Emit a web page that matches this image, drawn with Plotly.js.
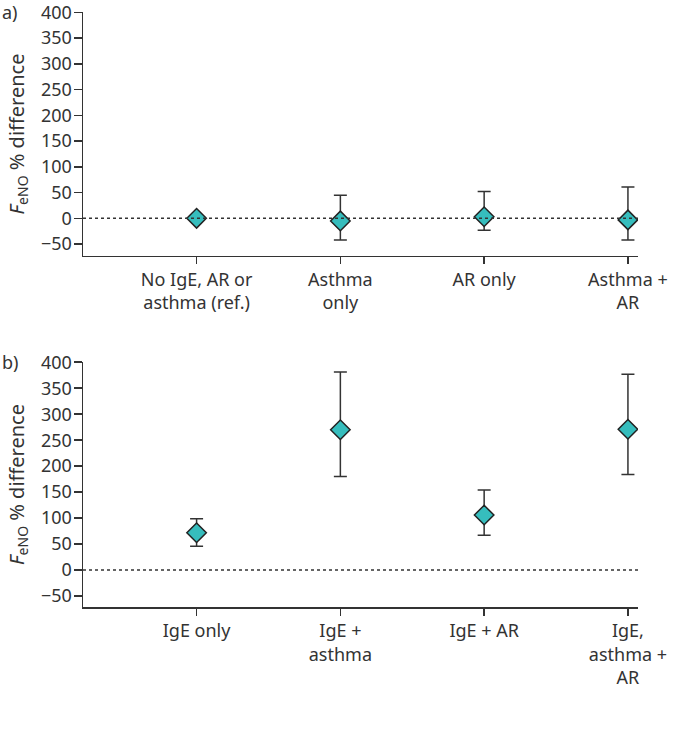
<!DOCTYPE html>
<html>
<head>
<meta charset="utf-8">
<script src="https://cdn.plot.ly/plotly-3.0.1.min.js"></script>
<style>html,body{margin:0;padding:0;background:#fff;}#chart{width:680px;height:735px;}</style>
</head>
<body>
<div id="chart"></div>
<script>
// Panel a
const catsA = ["No IgE, AR or<br>asthma (ref.)", "Asthma<br>only", "AR only", "Asthma +<br>AR"];
const valsA = [0, -5, 3, -3];
const upperA = [null, 45, 52, 61];
const lowerA = [null, -42, -23, -42];
// Panel b
const catsB = ["IgE only", "IgE +<br>asthma", "IgE + AR", "IgE,<br>asthma +<br>AR"];
const valsB = [72, 270, 106, 271];
const upperB = [99, 381, 154, 377];
const lowerB = [46, 180, 67, 184];
const yTicks = [-50, 0, 50, 100, 150, 200, 250, 300, 350, 400];

const FONT = "Noto Sans, sans-serif";
const DARK = "#333333";
const TEAL = "#36bdbd";

function errs(v, up, lo) {
  return {
    plus: v.map((d, i) => up[i] == null ? 0 : up[i] - d),
    minus: v.map((d, i) => lo[i] == null ? 0 : d - lo[i])
  };
}
const eA = errs(valsA, upperA, lowerA);
const eB = errs(valsB, upperB, lowerB);

function trace(cats, vals, e, xa, ya) {
  return {
    type: "scatter", mode: "markers",
    x: cats.map((c, i) => i), y: vals, xaxis: xa, yaxis: ya,
    marker: {symbol: "diamond", size: 15, color: TEAL, line: {color: "#222", width: 1.5}},
    error_y: {type: "data", symmetric: false, array: e.plus, arrayminus: e.minus,
      color: DARK, thickness: 1.5, width: 6.5},
    showlegend: false, hoverinfo: "skip"
  };
}

const xBase = {
  range: [-0.79, 3.07], showline: true, linecolor: DARK, linewidth: 1.5,
  ticks: "outside", ticklen: 7, tickcolor: DARK, tickwidth: 1.5,
  tickmode: "array", tickvals: [0, 1, 2, 3], showgrid: false, zeroline: false,
  tickfont: {family: FONT, size: 18, color: DARK}
};
const yBase = {
  showline: true, linecolor: DARK, linewidth: 1.5,
  ticks: "outside", ticklen: 8, tickcolor: DARK, tickwidth: 1.5,
  tickmode: "array", tickvals: yTicks, showgrid: false, zeroline: false,
  ticklabeloverflow: "allow", ticklabelstandoff: -2,
  tickfont: {family: FONT, size: 18, color: DARK},
  title: {text: "<i>F</i><sub>eNO</sub> % difference", font: {family: FONT, size: 20, color: DARK}, standoff: 11}
};

const layout = {
  width: 680, height: 735,
  margin: {l: 83, r: 42, t: 12, b: 128},
  paper_bgcolor: "#fff", plot_bgcolor: "#fff",
  font: {family: FONT, color: DARK},
  xaxis: Object.assign({}, xBase, {anchor: "y", ticktext: catsA}),
  yaxis: Object.assign({}, yBase, {domain: [0.590, 1], range: [-73, 400.5], anchor: "x"}),
  xaxis2: Object.assign({}, xBase, {anchor: "y2", ticktext: catsB}),
  yaxis2: Object.assign({}, yBase, {domain: [0, 0.4118], range: [-71, 400.5], anchor: "x2"}),
  shapes: [
    {type: "line", xref: "x domain", yref: "y", x0: 0, x1: 1, y0: 0, y1: 0, line: {color: DARK, width: 1.5, dash: "3px,3px"}},
    {type: "line", xref: "x2 domain", yref: "y2", x0: 0, x1: 1, y0: 0, y1: 0, line: {color: DARK, width: 1.5, dash: "3px,3px"}}
  ],
  annotations: [
    {text: "a)", xref: "paper", yref: "paper", x: -83/555, y: 1, xanchor: "left", yanchor: "middle", showarrow: false, font: {family: FONT, size: 18, color: DARK}},
    {text: "b)", xref: "paper", yref: "paper", x: -83/555, y: 0.4118, xanchor: "left", yanchor: "middle", showarrow: false, font: {family: FONT, size: 18, color: DARK}}
  ]
};

Plotly.newPlot("chart", [trace(catsA, valsA, eA, "x", "y"), trace(catsB, valsB, eB, "x2", "y2")], layout, {staticPlot: true});
</script>
</body>
</html>
